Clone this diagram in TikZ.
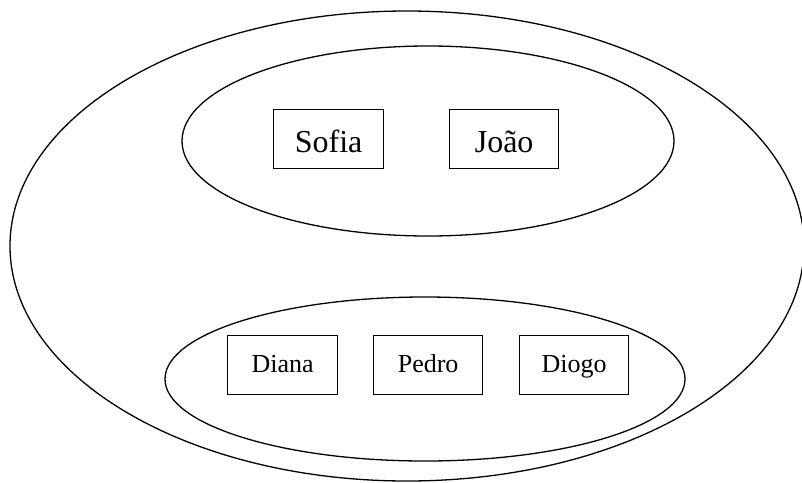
\documentclass[tikz,border=0pt]{standalone}
\usepackage{fontspec}
\setmainfont{Liberation Serif}
\usetikzlibrary{shapes.geometric}
\begin{document}
\begin{tikzpicture}[x=1pt,y=-1pt,
  grp/.style={draw,line width=1.3pt},
  person/.style={draw,line width=1.3pt,rectangle,inner sep=0pt,anchor=north west},
  big/.style={font=\fontsize{32}{36}\selectfont,text height=28.8pt,text depth=2.6pt},
  small/.style={font=\fontsize{26}{30}\selectfont,text height=20.8pt,text depth=5.7pt}]
\useasboundingbox (0,0) rectangle (802,482);
\draw[grp] (407,246) ellipse [x radius=397, y radius=235];
\draw[grp] (428,141) ellipse [x radius=246, y radius=95];
\draw[grp] (425,379) ellipse [x radius=260, y radius=82];
\node[person,big,minimum width=110pt,minimum height=59pt] (sofia) at (273,109) {Sofia};
\node[person,big,minimum width=109pt,minimum height=59pt] (joao) at (449,109) {João};
\node[person,small,minimum width=110pt,minimum height=59pt] (diana) at (227,335) {Diana};
\node[person,small,minimum width=109pt,minimum height=59pt] (pedro) at (373,335) {Pedro};
\node[person,small,minimum width=109pt,minimum height=59pt] (diogo) at (519,335) {Diogo};
\end{tikzpicture}
\end{document}
